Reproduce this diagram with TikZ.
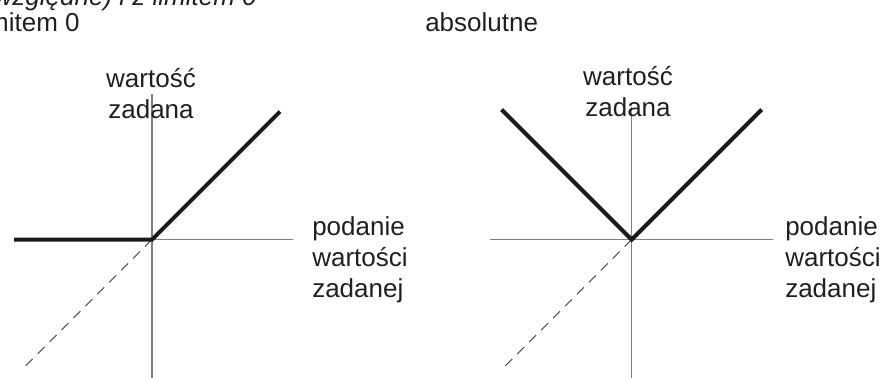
\documentclass[tikz,border=0pt]{standalone}
\usepackage{fontspec}
\setmainfont{Liberation Sans}
\usepackage{xcolor}
\usepackage{tikz}
\usetikzlibrary{positioning}
\definecolor{caxis}{HTML}{808080}
\definecolor{ccurve}{HTML}{1A1A1A}
\definecolor{cdash}{HTML}{3C3C3C}
\definecolor{ctext}{HTML}{231F20}
\tikzset{
  axisline/.style={draw=caxis,line width=0.85pt},
  curveline/.style={draw=ccurve,line width=2.85pt,line join=miter},
  mirrorline/.style={draw=cdash,line width=0.6pt,dash pattern=on 7pt off 5pt},
  lbl/.style={text=ctext,font=\fontsize{18.5}{22.4}\selectfont,inner sep=0pt,align=left},
  ylbl/.style={lbl,align=center},
}
\begin{document}
\begin{tikzpicture}
  \useasboundingbox (0,0) rectangle (22.3,9.45);
  % headings (cut at the page edge)
  \node[lbl,font=\fontsize{18.5}{22.4}\selectfont\itshape,anchor=base east] (sub1) at (6.425,9.3) {względne) i z limitem 0};
  \node[lbl,anchor=base east] (head1) at (2.0,8.65) {limitem 0};
  \node[lbl,anchor=base west] (head2) at (10.625,8.65) {absolutne};
  % left graph: with limit 0
  \coordinate (o1) at (3.8,3.46);
  \coordinate (xl1) at (0.35,3.46);
  \coordinate (xr1) at (7.325,3.46);
  \coordinate (yt1) at (3.8,7.1);
  \coordinate (yb1) at (3.8,0);
  \coordinate (up1) at (7.0,6.66);
  \coordinate (dn1) at (0.55,0.21);
  \draw[axisline] (xl1) -- (xr1);
  \draw[axisline] (yt1) -- (yb1);
  \draw[mirrorline] (o1) -- (dn1);
  \draw[curveline] (xl1) -- (o1) -- (up1);
  \node[ylbl,anchor=base] (ylab1) at (3.775,6.475) {wartość\\zadana};
  \node[lbl,anchor=base west] (xlab1) at (7.8,2.0) {podanie\\wartości\\zadanej};
  % right graph: absolute
  \coordinate (o2) at (15.79,3.46);
  \coordinate (xl2) at (12.25,3.46);
  \coordinate (xr2) at (19.325,3.46);
  \coordinate (yt2) at (15.79,6.775);
  \coordinate (yb2) at (15.79,0);
  \coordinate (ul2) at (12.54,6.71);
  \coordinate (ur2) at (19.04,6.71);
  \coordinate (dn2) at (12.54,0.21);
  \draw[axisline] (xl2) -- (xr2);
  \draw[axisline] (yt2) -- (yb2);
  \draw[mirrorline] (o2) -- (dn2);
  \draw[curveline] (ul2) -- (o2) -- (ur2);
  \node[ylbl,anchor=base] (ylab2) at (15.7,6.525) {wartość\\zadana};
  \node[lbl,anchor=base west] (xlab2) at (19.625,2.0) {podanie\\wartości\\zadanej};
\end{tikzpicture}
\end{document}
